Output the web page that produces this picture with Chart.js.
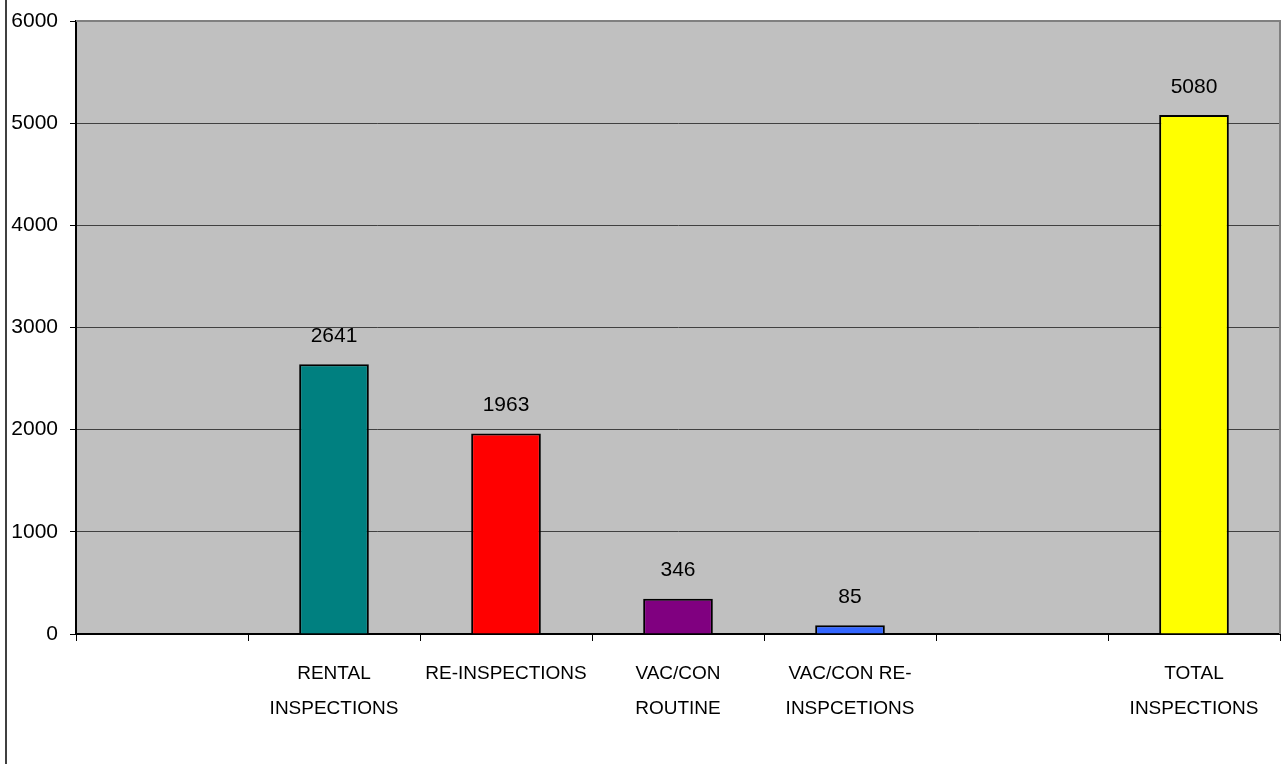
<!DOCTYPE html>
<html>
<head>
<meta charset="utf-8">
<title>Inspections</title>
<script src="https://cdn.jsdelivr.net/npm/chart.js@4/dist/chart.umd.min.js"></script>
<style>
  html, body { margin: 0; padding: 0; background: #ffffff; }
  #wrap { width: 1283px; height: 764px; position: relative; }
  canvas { display: block; }
</style>
</head>
<body>
<div id="wrap"><canvas id="chart" width="1283" height="764"></canvas></div>
<script>
// Category labels (multi-line where the label wraps)
const categories = [
  '',
  ['RENTAL', 'INSPECTIONS'],
  ['RE-INSPECTIONS'],
  ['VAC/CON', 'ROUTINE'],
  ['VAC/CON RE-', 'INSPCETIONS'],
  '',
  ['TOTAL', 'INSPECTIONS']
];

// Inspection counts per category (empty slots have no bar)
const inspectionCounts = [null, 2641, 1963, 346, 85, null, 5080];

// Bar fill colours, one per category
const barColors = ['#000000', '#008080', '#FF0000', '#800080', '#3366FF', '#000000', '#FFFF00'];

// Value axis ticks
const yTickValues = [0, 1000, 2000, 3000, 4000, 5000, 6000];

const FONT = '"Liberation Sans", Arial, Helvetica, sans-serif';

// Grey plot background, grey top/right frame and the outer left frame line
const plotFrame = {
  id: 'plotFrame',
  beforeDraw(chart) {
    const { ctx, chartArea: a } = chart;
    ctx.save();
    ctx.fillStyle = '#ffffff';
    ctx.fillRect(0, 0, chart.width, chart.height);
    ctx.fillStyle = '#C0C0C0';
    ctx.fillRect(a.left, a.top, a.right - a.left, a.bottom - a.top);
    // outer chart frame (left edge)
    ctx.strokeStyle = '#404040';
    ctx.lineWidth = 2;
    ctx.beginPath();
    ctx.moveTo(6, 0);
    ctx.lineTo(6, chart.height);
    ctx.stroke();
    ctx.restore();
  },
  afterDraw(chart) {
    const { ctx, chartArea: a } = chart;
    ctx.save();
    ctx.strokeStyle = '#808080';
    ctx.lineWidth = 2;
    ctx.beginPath();
    ctx.moveTo(a.left, a.top);
    ctx.lineTo(a.right, a.top);
    ctx.lineTo(a.right, a.bottom);
    ctx.stroke();
    ctx.restore();
  }
};

// Value labels printed above each bar
const valueLabels = {
  id: 'valueLabels',
  afterDatasetsDraw(chart) {
    const { ctx } = chart;
    ctx.save();
    ctx.font = '21px ' + FONT;
    ctx.fillStyle = '#000000';
    ctx.textAlign = 'center';
    ctx.textBaseline = 'middle';
    chart.data.datasets.forEach((ds, di) => {
      const meta = chart.getDatasetMeta(di);
      meta.data.forEach((bar, i) => {
        const v = ds.data[i];
        if (v === null || v === undefined) return;
        ctx.fillText(String(v), bar.x, bar.y - 28);
      });
    });
    ctx.restore();
  }
};

new Chart(document.getElementById('chart'), {
  type: 'bar',
  data: {
    labels: categories,
    datasets: [{
      data: inspectionCounts,
      backgroundColor: barColors,
      borderColor: '#000000',
      borderWidth: 2,
      barPercentage: 0.405,
      categoryPercentage: 1.0
    }]
  },
  options: {
    responsive: false,
    animation: false,
    events: [],
    layout: { padding: { left: 0, top: 21, right: 3, bottom: 0 } },
    plugins: {
      legend: { display: false },
      tooltip: { enabled: false },
      title: { display: false }
    },
    scales: {
      x: {
        type: 'category',
        offset: true,
        grid: {
          display: true,
          offset: true,
          drawOnChartArea: false,
          tickLength: 7,
          tickColor: '#000000',
          tickWidth: 1
        },
        border: { display: true, color: '#000000', width: 2 },
        ticks: {
          color: '#000000',
          font: { family: FONT, size: 19, lineHeight: 1.84 },
          padding: 15,
          maxRotation: 0,
          minRotation: 0,
          autoSkip: false
        },
        afterFit(scale) {
          scale.height = 130;
          scale.paddingLeft = 0;
          scale.paddingRight = 0;
        }
      },
      y: {
        min: 0,
        max: 6000,
        afterBuildTicks(scale) {
          scale.ticks = yTickValues.map(v => ({ value: v }));
        },
        grid: {
          display: true,
          drawOnChartArea: true,
          color: '#404040',
          lineWidth: 1,
          tickLength: 6,
          tickColor: '#000000',
          tickWidth: 1
        },
        border: { display: true, color: '#000000', width: 2 },
        ticks: {
          color: '#000000',
          font: { family: FONT, size: 21 },
          padding: 12,
          callback: (value) => String(value)
        },
        afterFit(scale) {
          scale.width = 76;
          scale.paddingTop = 0;
          scale.paddingBottom = 0;
        }
      }
    }
  },
  plugins: [plotFrame, valueLabels]
});
</script>
</body>
</html>
